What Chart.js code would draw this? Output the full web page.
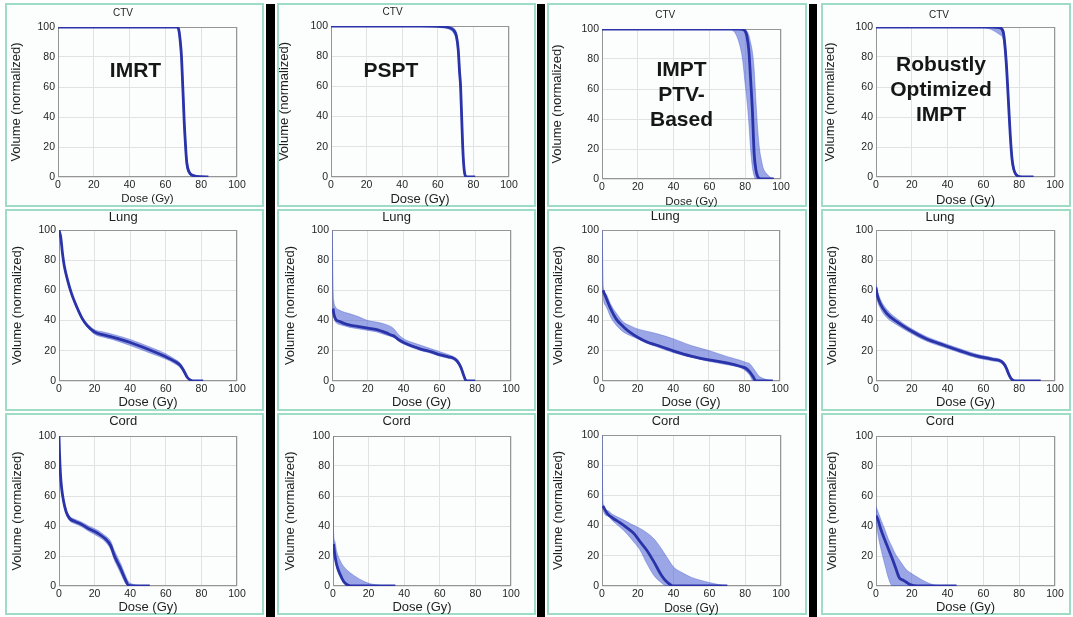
<!DOCTYPE html>
<html>
<head>
<meta charset="utf-8">
<script src="https://cdn.jsdelivr.net/npm/chart.js@4.4.0/dist/chart.umd.min.js"></script>
<style>
html, body { margin: 0; padding: 0; background: #ffffff; width: 1073px; height: 617px; overflow: hidden; position: relative; }
.panel { position: absolute; box-sizing: border-box; border: 2px solid #9edcc6; background: #fcfefe; }
.bar { position: absolute; background: #000; }
canvas { position: absolute; }
</style>
</head>
<body>
<script>
// ---------------- DATA ----------------
const structures = ['CTV', 'Lung', 'Cord'];
const techniqueLabels = [['IMRT'], ['PSPT'], ['IMPT', 'PTV-', 'Based'], ['Robustly', 'Optimized', 'IMPT']];
const doseTicks = [0, 20, 40, 60, 80, 100];
const volumeTicks = [0, 20, 40, 60, 80, 100];
const xAxisTitle = 'Dose (Gy)';
const yAxisTitle = 'Volume (normalized)';

// CTV
const ctvImrtDose = [0, 60, 66.5, 67.5, 68.5, 69, 69.5, 70, 70.5, 71, 71.5, 72, 73, 74, 76, 80, 84];
const ctvImrtMean = [100, 100, 100, 98, 88, 80, 66, 52, 37, 26, 16, 9, 4, 2, 0.8, 0.2, 0];
const ctvImrtLow  = [100, 100, 99.5, 96, 84, 75, 60, 46, 32, 21, 12, 6, 2.5, 1, 0.3, 0, 0];
const ctvImrtHigh = [100, 100, 100, 99, 92, 85, 72, 58, 43, 31, 21, 13, 6, 3, 1.4, 0.4, 0];

const ctvPsptDose = [0, 50, 60, 66, 69, 70.5, 71.5, 72.2, 72.8, 73.4, 74, 74.5, 75, 75.6, 77, 81];
const ctvPsptMean = [100, 100, 99.7, 99, 97, 93, 84, 70, 60, 40, 20, 9, 3, 0.5, 0, 0];
const ctvPsptLow  = [100, 100, 99.3, 98, 95, 90, 80, 65, 55, 36, 17, 7, 2, 0.2, 0, 0];
const ctvPsptHigh = [100, 100, 100, 99.6, 98.5, 95.5, 88, 75, 65, 45, 24, 12, 4.5, 1.5, 0.2, 0];

const ctvImptDose = [0, 70, 72.5, 75, 77, 78.5, 80, 81, 82, 83, 84, 85, 86, 87, 88, 89, 90, 92, 94, 96];
const ctvImptMean = [100, 100, 100, 100, 100, 99.7, 98.5, 95, 86, 67, 46, 17, 6, 1.5, 0.3, 0, 0, 0, 0, 0];
const ctvImptLow  = [100, 100, 99.5, 96, 89, 80, 63, 52, 38, 20, 8, 2, 0, 0, 0, 0, 0, 0, 0, 0];
const ctvImptHigh = [100, 100, 100, 100, 100, 100, 99.5, 98.5, 96, 91, 85, 73, 52, 33, 20, 13, 7.5, 3.5, 1.2, 0];

const ctvRobustDose = [0, 60, 65, 69, 71, 72, 73, 74, 75, 76, 77, 78, 80, 84, 88];
const ctvRobustMean = [100, 100, 100, 99.5, 97, 88, 72, 50, 28, 12, 5, 2, 0.3, 0.1, 0];
const ctvRobustLow  = [100, 99.5, 98, 95, 92, 82, 66, 45, 24, 9, 3.5, 1.2, 0.1, 0, 0];
const ctvRobustHigh = [100, 100, 100, 100, 99, 92, 77, 55, 32, 15, 6.5, 3, 0.6, 0.2, 0];

// Lung
const lungImrtDose = [0, 1, 2, 3, 5, 7, 10, 13, 16, 20, 25, 30, 40, 50, 60, 65, 68, 70, 72, 74, 76, 81];
const lungImrtMean = [100, 95, 84, 76, 66, 58, 49, 41.5, 36.5, 32.5, 30.5, 29, 25.5, 21, 16, 13, 10.5, 7, 2.5, 0.5, 0, 0];
const lungImrtLow  = [99.5, 94, 83, 75, 65, 57, 48, 40.5, 35.5, 31, 29, 27.5, 23.5, 19, 14.5, 11.5, 9, 6, 2, 0.3, 0, 0];
const lungImrtHigh = [100, 96, 85, 77, 67, 59, 50, 42.5, 37.8, 34, 32.5, 31, 27.5, 23, 18, 14.5, 12, 8.5, 3.5, 1, 0.2, 0];

const lungPsptDose = [0, 0.3, 0.6, 1, 2, 4, 7, 10, 15, 20, 25, 30, 33, 35, 37, 40, 45, 50, 55, 60, 65, 68, 70, 72, 73.5, 75, 77, 80];
const lungPsptMean = [null, null, 48, 44.5, 41, 39.5, 38, 37, 36, 35, 34, 32, 30.5, 29.5, 27.5, 25.5, 23, 21, 19.5, 17.5, 16, 15, 13, 9, 4, 0, 0, 0];
const lungPsptLow  = [100, 70, 46, 42, 39, 37.5, 36.5, 35.5, 34.5, 33.5, 32.5, 30.5, 29.5, 28.5, 26.5, 24.5, 22, 20, 18.5, 16.5, 15, 14, 12, 8, 3, 0, 0, 0];
const lungPsptHigh = [100, 85, 60, 53, 49, 47, 45.5, 44.5, 42.5, 40, 39, 37.5, 36, 34, 31, 28, 25.5, 23.5, 21.5, 19.5, 17.5, 16, 14.5, 10.5, 5, 1, 0, 0];

const lungImptDose = [0, 0.3, 0.6, 2, 5, 8, 12, 16, 20, 25, 30, 40, 50, 60, 70, 78, 81, 83, 85, 86.5, 88, 90, 93, 96];
const lungImptMean = [null, null, 60, 56, 47.5, 41, 36, 32, 29, 26, 24, 20, 16.5, 14, 12, 9.6, 8.3, 6, 2.7, 0, 0, 0, 0, 0];
const lungImptLow  = [100, 75, 57, 50, 42, 37, 32.5, 30, 28, 25, 23, 18.8, 15.8, 13, 10.8, 8.7, 6.3, 3.8, 0, 0, 0, 0, 0, 0];
const lungImptHigh = [100, 85, 63, 58, 50.5, 45, 39, 36.5, 34.5, 33, 31.6, 28, 23.5, 20.2, 16.3, 13.6, 12.3, 11.5, 8.5, 6, 3.5, 2, 0.8, 0];

const lungRobustDose = [0, 0.5, 2.5, 6, 12, 19, 28, 38, 47, 56, 65, 70, 72, 73, 74, 75, 76, 78, 85, 92];
const lungRobustMean = [62, 58, 51, 44.7, 39, 33.6, 28, 23.7, 20, 16.6, 14.4, 13, 10.5, 8, 5, 2.5, 1, 0, 0, 0];
const lungRobustLow  = [60, 55, 48, 42, 37, 32, 26.5, 22.3, 18.7, 15.4, 13.3, 11.8, 9, 6.5, 3.5, 1.5, 0.3, 0, 0, 0];
const lungRobustHigh = [64, 61, 54, 47.5, 41, 35.2, 29.5, 25, 21.3, 17.8, 15.5, 14, 11.8, 9.5, 6.5, 3.5, 1.8, 0.5, 0.2, 0];

// Cord
const cordImrtDose = [0, 0.3, 0.8, 1.5, 2.5, 4, 6, 9, 12, 17, 22, 26, 29, 31, 33, 35, 37, 39, 42, 46, 51];
const cordImrtMean = [100, 88, 75, 65, 57, 49.5, 45, 43, 41.5, 38, 35, 31.5, 27, 20.5, 15.5, 10.5, 5, 0.5, 0.1, 0, 0];
const cordImrtLow  = [100, 87, 73.5, 63.5, 55.5, 48, 43.5, 41.5, 40, 36.3, 33, 29.5, 24.5, 17.5, 12.5, 7.5, 2.5, 0, 0, 0, 0];
const cordImrtHigh = [100, 89, 76.5, 66.5, 58.5, 51, 46.5, 44.5, 43, 39.8, 37, 33.5, 30, 24, 19, 14, 8, 3, 1, 0.3, 0];

const cordPsptDose = [0, 0.3, 1, 2, 4, 6, 8, 10, 13, 17, 21, 25, 30, 35];
const cordPsptMean = [null, 28, 21, 14.5, 7.8, 3, 0.8, 0, 0, 0, 0, 0, 0, 0];
const cordPsptLow  = [100, 24, 18, 12, 6, 2, 0.3, 0, 0, 0, 0, 0, 0, 0];
const cordPsptHigh = [100, 37, 30, 23.5, 17, 13, 10.5, 8.5, 6, 3.3, 1.5, 0.7, 0, 0];

const cordImptDose = [0, 0.5, 3, 6, 10, 14, 18, 21, 25, 29, 33, 36, 40, 45, 50, 55, 60, 65, 70];
const cordImptMean = [null, 53, 48, 45, 42, 38.5, 34.5, 29.8, 23.7, 16, 7.5, 3, 0, 0, 0, 0, 0, 0, 0];
const cordImptLow  = [100, 51.3, 46.5, 43, 39, 34.5, 28.8, 24.3, 15, 7, 2.3, 0, 0, 0, 0, 0, 0, 0, 0];
const cordImptHigh = [100, 55, 50, 47.3, 45, 42.5, 40, 38.3, 35.3, 31.3, 25, 19.5, 12.6, 8.7, 5.7, 3.8, 2.3, 1, 0];

const cordRobustDose = [0, 1, 2.5, 5, 7, 9, 11, 13, 15, 17, 19, 23, 28, 34, 40, 45];
const cordRobustMean = [47, 44.5, 38.5, 30.5, 24.5, 18.5, 12, 5.5, 4, 2.5, 1, 0, 0, 0, 0, 0];
const cordRobustLow  = [44, 35, 26, 14, 5, 0.2, 0, 0, 0, 0, 0, 0, 0, 0, 0, 0];
const cordRobustHigh = [53, 50, 45, 37.5, 31, 26, 21, 17.5, 14, 10.8, 9, 6, 2.7, 0.4, 0.1, 0];

const panelSeries = [
  [[ctvImrtDose, ctvImrtMean, ctvImrtLow, ctvImrtHigh], [ctvPsptDose, ctvPsptMean, ctvPsptLow, ctvPsptHigh],
   [ctvImptDose, ctvImptMean, ctvImptLow, ctvImptHigh], [ctvRobustDose, ctvRobustMean, ctvRobustLow, ctvRobustHigh]],
  [[lungImrtDose, lungImrtMean, lungImrtLow, lungImrtHigh], [lungPsptDose, lungPsptMean, lungPsptLow, lungPsptHigh],
   [lungImptDose, lungImptMean, lungImptLow, lungImptHigh], [lungRobustDose, lungRobustMean, lungRobustLow, lungRobustHigh]],
  [[cordImrtDose, cordImrtMean, cordImrtLow, cordImrtHigh], [cordPsptDose, cordPsptMean, cordPsptLow, cordPsptHigh],
   [cordImptDose, cordImptMean, cordImptLow, cordImptHigh], [cordRobustDose, cordRobustMean, cordRobustLow, cordRobustHigh]]
];

// ---------------- LAYOUT (page pixels) ----------------
const COLS = [[5, 264], [277, 536], [547, 807], [821, 1071]];
const ROWS = [[3, 207], [209, 411], [413, 615]];
const BARS = [[266, 275], [537, 545], [809, 817]];
const AREAS = [
  [[58, 237, 27, 177], [331, 509, 26, 177], [602, 781, 29, 179], [876, 1055, 27, 177]],
  [[59, 237, 230, 381], [332, 511, 230, 381], [602, 780, 230, 381], [876, 1055, 230, 381]],
  [[59, 237, 436, 586], [333, 511, 436, 586], [602, 781, 435, 586], [876, 1055, 436, 586]]
];
const TITLE_CY = [[13.3, 12.7, 15, 15], [217.3, 217.3, 216.7, 217.3], [421.7, 421.7, 421.7, 421.7]];
const XT_CY = [[199, 199.3, 201.7, 200], [402.3, 402.3, 402.3, 402.3], [607.3, 607.3, 608.3, 607.3]];
const YT_CX = [[16.7, 284, 557.3, 830.7], [17.3, 290, 558.3, 832.7], [17.3, 290, 558.3, 832.7]];
const TITLE_SIZE = [10, 13, 13];
const XT_SIZE = [[11.5, 13, 11.5, 13], [13, 13, 13, 13], [13, 13, 12, 13]];
const YT_SIZE = 13;
const TICK_SIZE = 10.5;
const LABEL_AT = [[43.3, 70.8], [33.7, 70.1], [44.4, 72.4], [36.3, 74.4]];
const FONT = '"Liberation Sans", Arial, Helvetica, sans-serif';
const MEAN_COLOR = '#2a33a8';
const BAND_COLOR = 'rgba(72, 92, 208, 0.55)';
const BAND_EDGE = 'rgba(72, 92, 208, 0.4)';

Chart.defaults.font.family = FONT;
Chart.defaults.color = '#1e1e1e';

const framePlugin = {
  id: 'frame',
  beforeDatasetsDraw(chart) {
    const { ctx, chartArea: a } = chart;
    ctx.save();
    ctx.strokeStyle = '#959595';
    ctx.lineWidth = 1;
    ctx.strokeRect(Math.round(a.left) + 0.5, Math.round(a.top) + 0.5,
                   Math.round(a.right - a.left) - 1, Math.round(a.bottom - a.top) - 1);
    ctx.restore();
  }
};
const labelPlugin = {
  id: 'techLabel',
  afterDatasetsDraw(chart, args, opts) {
    if (!opts || !opts.lines || !opts.lines.length) return;
    const { ctx, scales } = chart;
    ctx.save();
    ctx.font = 'bold 21px ' + FONT;
    ctx.fillStyle = '#161616';
    ctx.textAlign = 'center';
    ctx.textBaseline = 'middle';
    const px = scales.x.getPixelForValue(opts.at[0]);
    const py = scales.y.getPixelForValue(opts.at[1]);
    opts.lines.forEach((t, i) => ctx.fillText(t, px, py + i * 25));
    ctx.restore();
  }
};

function pts(dose, vals) { return dose.map((d, i) => ({ x: d, y: vals[i] })); }

function addDiv(cls, l, t, w, h) {
  const d = document.createElement('div');
  d.className = cls;
  d.style.left = l + 'px'; d.style.top = t + 'px';
  d.style.width = w + 'px'; d.style.height = h + 'px';
  document.body.appendChild(d);
}

for (let r = 0; r < 3; r++) {
  for (let c = 0; c < 4; c++) {
    addDiv('panel', COLS[c][0], ROWS[r][0], COLS[c][1] - COLS[c][0], ROWS[r][1] - ROWS[r][0]);
  }
}
BARS.forEach(b => addDiv('bar', b[0], 4, b[1] - b[0], 613));

for (let r = 0; r < 3; r++) {
  for (let c = 0; c < 4; c++) {
    const cx0 = COLS[c][0] - 4, cx1 = Math.min(COLS[c][1] + 2, 1073);
    const cy0 = ROWS[r][0], cy1 = ROWS[r][1] + 8;
    const W = cx1 - cx0, H = cy1 - cy0;
    const [aL, aR, aT, aB] = AREAS[r][c];
    const tLH = TITLE_SIZE[r] * 1.2;
    const titlePadTop = TITLE_CY[r][c] - cy0 - tLH / 2;
    const titlePadBottom = aT - TITLE_CY[r][c] - tLH / 2;
    const yLH = YT_SIZE * 1.2;
    const yAxisLeft = YT_CX[r][c] - yLH / 2;
    const yAxisWidth = aL - yAxisLeft;
    const xLH = XT_SIZE[r][c] * 1.2;
    const xAxisBottom = XT_CY[r][c] + xLH / 2;
    const xAxisHeight = xAxisBottom - aB;

    const cv = document.createElement('canvas');
    cv.width = W; cv.height = H;
    cv.style.left = cx0 + 'px'; cv.style.top = cy0 + 'px';
    cv.style.width = W + 'px'; cv.style.height = H + 'px';
    document.body.appendChild(cv);

    const [dose, mean, low, high] = panelSeries[r][c];
    const common = { pointRadius: 0, pointHoverRadius: 0, cubicInterpolationMode: 'monotone' };
    new Chart(cv.getContext('2d'), {
      type: 'line',
      data: {
        datasets: [
          Object.assign({ label: 'mean', data: pts(dose, mean), borderColor: MEAN_COLOR, borderWidth: 2.8, fill: false }, common),
          Object.assign({ label: 'low', data: pts(dose, low), borderColor: BAND_EDGE, borderWidth: 1, fill: false }, common),
          Object.assign({ label: 'high', data: pts(dose, high), borderColor: BAND_EDGE, borderWidth: 1, fill: 1, backgroundColor: BAND_COLOR }, common)
        ]
      },
      options: {
        responsive: false,
        animation: false,
        events: [],
        layout: { padding: { left: yAxisLeft - cx0, right: cx1 - aR, top: 0, bottom: cy1 - xAxisBottom } },
        plugins: {
          legend: { display: false },
          tooltip: { enabled: false },
          title: {
            display: true, text: structures[r], color: '#1e1e1e',
            font: { size: TITLE_SIZE[r], weight: 'normal', lineHeight: 1.2 },
            padding: { top: titlePadTop, bottom: titlePadBottom }
          },
          techLabel: r === 0 ? { lines: techniqueLabels[c], at: LABEL_AT[c] } : { lines: [] }
        },
        scales: {
          x: {
            type: 'linear', min: 0, max: 100,
            afterBuildTicks: s => { s.ticks = doseTicks.map(v => ({ value: v })); },
            afterFit: s => { s.height = xAxisHeight; },
            grid: { color: '#e2e2e2', drawTicks: false, lineWidth: 1 },
            border: { display: false },
            ticks: { padding: 2, font: { size: TICK_SIZE }, color: '#1e1e1e', maxRotation: 0 },
            title: { display: true, text: xAxisTitle, font: { size: XT_SIZE[r][c], lineHeight: 1.2 }, padding: 0, color: '#1e1e1e' }
          },
          y: {
            type: 'linear', min: 0, max: 100,
            afterBuildTicks: s => { s.ticks = volumeTicks.map(v => ({ value: v })); },
            afterFit: s => { s.width = yAxisWidth; },
            grid: { color: '#e2e2e2', drawTicks: false, lineWidth: 1 },
            border: { display: false },
            ticks: { padding: 3, font: { size: TICK_SIZE }, color: '#1e1e1e' },
            title: { display: true, text: yAxisTitle, font: { size: YT_SIZE, lineHeight: 1.2 }, padding: 0, color: '#1e1e1e' }
          }
        }
      },
      plugins: [framePlugin, labelPlugin]
    });
  }
}
</script>
</body>
</html>
